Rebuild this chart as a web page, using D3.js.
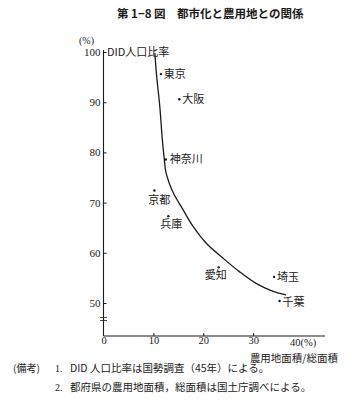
<!DOCTYPE html>
<html><head><meta charset="utf-8">
<script src="https://cdn.jsdelivr.net/npm/d3@7"></script>
<style>
body{margin:0;background:#fff;}
svg{display:block;}
.jp{font-family:"Noto Sans CJK JP","Noto Sans",sans-serif;}
.num{font-family:"Liberation Serif","DejaVu Serif",serif;}
</style></head>
<body>
<svg id="c" width="359" height="408"></svg>
<script>
// data
const prefs = ["東京","大阪","神奈川","京都","兵庫","愛知","埼玉","千葉"];
const farmShare = [11.5,15.2,12.5,10.2,13.0,23.1,34.2,35.3];   // 農用地面積/総面積 (%)
const didRatio  = [95.6,90.6,78.6,72.4,67.3,57.1,55.2,50.4];   // DID人口比率 (%)
const curveX = [10.3,10.6,11.3,11.8,12.2,12.5,13.1,14.0,16.0,18.0,20.6,24.0,27.3,30.6,34.0,36.6];
const curveY = [99.8,95.8,89.0,82.5,78.5,76.1,74.1,71.9,68.5,65.2,61.9,58.9,56.2,53.9,52.3,51.6];
const xTicks = [0,10,20,30];
const xEndLabel = "40(%)";
const yTicks = [50,60,70,80,90,100];

const svg = d3.select("#c");
const ink = "#1a1a1a";
const x = d3.scaleLinear().domain([0,40]).range([103.5,303]);
const y = d3.scaleLinear().domain([50,100]).range([303,52]);
const baseY = 336;

// title
svg.append("text").attr("class","jp").attr("x",117).attr("y",18)
  .attr("font-size",11.5).attr("font-weight",700).attr("fill",ink)
  .text("第 1−8 図　都市化と農用地との関係");

// y axis
const yAxis = d3.axisLeft(y).tickValues(yTicks).tickSize(-3).tickPadding(3);
const gy = svg.append("g").attr("transform",`translate(${x(0)},0)`).call(yAxis);
gy.select(".domain").remove();
gy.selectAll(".tick line").attr("stroke",ink);
gy.selectAll(".tick text").attr("class","num").attr("font-size",11).attr("fill",ink);
svg.append("line").attr("x1",x(0)).attr("x2",x(0)).attr("y1",y(100)-2).attr("y2",baseY)
  .attr("stroke",ink).attr("stroke-width",1.1);
// axis break marks
[317.5,320.5].forEach(v=>svg.append("line").attr("x1",x(0)-3.5).attr("x2",x(0)+3.5)
  .attr("y1",v).attr("y2",v).attr("stroke",ink).attr("stroke-width",0.8));

// x axis
const xAxis = d3.axisBottom(x).tickValues(xTicks).tickSize(-3).tickPadding(1);
const gx = svg.append("g").attr("transform",`translate(0,${baseY})`).call(xAxis);
gx.select(".domain").remove();
gx.selectAll(".tick line").attr("stroke",ink).attr("stroke-width",d=>d===0?0:1);
gx.selectAll(".tick text").attr("class","num").attr("font-size",10.5).attr("fill",ink);
svg.append("line").attr("x1",x(0)).attr("x2",325).attr("y1",baseY).attr("y2",baseY)
  .attr("stroke",ink).attr("stroke-width",1.1);
svg.append("text").attr("class","num").attr("x",x(40)-13).attr("y",baseY+10)
  .attr("font-size",10.5).attr("fill",ink).text(xEndLabel);
svg.append("text").attr("class","jp").attr("x",338).attr("y",362).attr("text-anchor","end")
  .attr("font-size",10.5).attr("fill",ink).text("農用地面積/総面積");

// y labels
svg.append("text").attr("class","num").attr("x",79).attr("y",44)
  .attr("font-size",10).attr("fill",ink).text("(%)");
svg.append("text").attr("class","jp").attr("x",107).attr("y",56)
  .attr("font-size",11).attr("fill",ink).text("DID人口比率");

// curve
const pts = curveX.map((v,i)=>[v,curveY[i]]);
svg.append("path").datum(pts)
  .attr("d",d3.line().x(d=>x(d[0])).y(d=>y(d[1])).curve(d3.curveCatmullRom.alpha(0.5)))
  .attr("fill","none").attr("stroke",ink).attr("stroke-width",1.3);

// points + labels
const off = {"東京":[3,4],"大阪":[3,4],"神奈川":[4,4],"京都":[-6,13],"兵庫":[-8,12],
             "愛知":[-14,12],"埼玉":[3,4],"千葉":[3,5]};
prefs.forEach((p,i)=>{
  const px = x(farmShare[i]), py = y(didRatio[i]);
  svg.append("circle").attr("cx",px).attr("cy",py).attr("r",1.2).attr("fill",ink);
  svg.append("text").attr("class","jp").attr("x",px+off[p][0]).attr("y",py+off[p][1])
    .attr("font-size",11).attr("fill",ink).text(p);
});

// notes
const notes = [["(備考)","1.","DID 人口比率は国勢調査（45年）による。",368],
               ["","2.","都府県の農用地面積，総面積は国土庁調べによる。",387]];
notes.forEach(n=>{
  if(n[0]) svg.append("text").attr("class","jp").attr("x",13).attr("y",n[3]+4)
    .attr("font-size",10).attr("fill",ink).text(n[0]);
  svg.append("text").attr("class","num").attr("x",55).attr("y",n[3]+4)
    .attr("font-size",10).attr("fill",ink).text(n[1]);
  svg.append("text").attr("class","jp").attr("x",70).attr("y",n[3]+4)
    .attr("font-size",10.5).attr("fill",ink).text(n[2]);
});
</script>
</body></html>
